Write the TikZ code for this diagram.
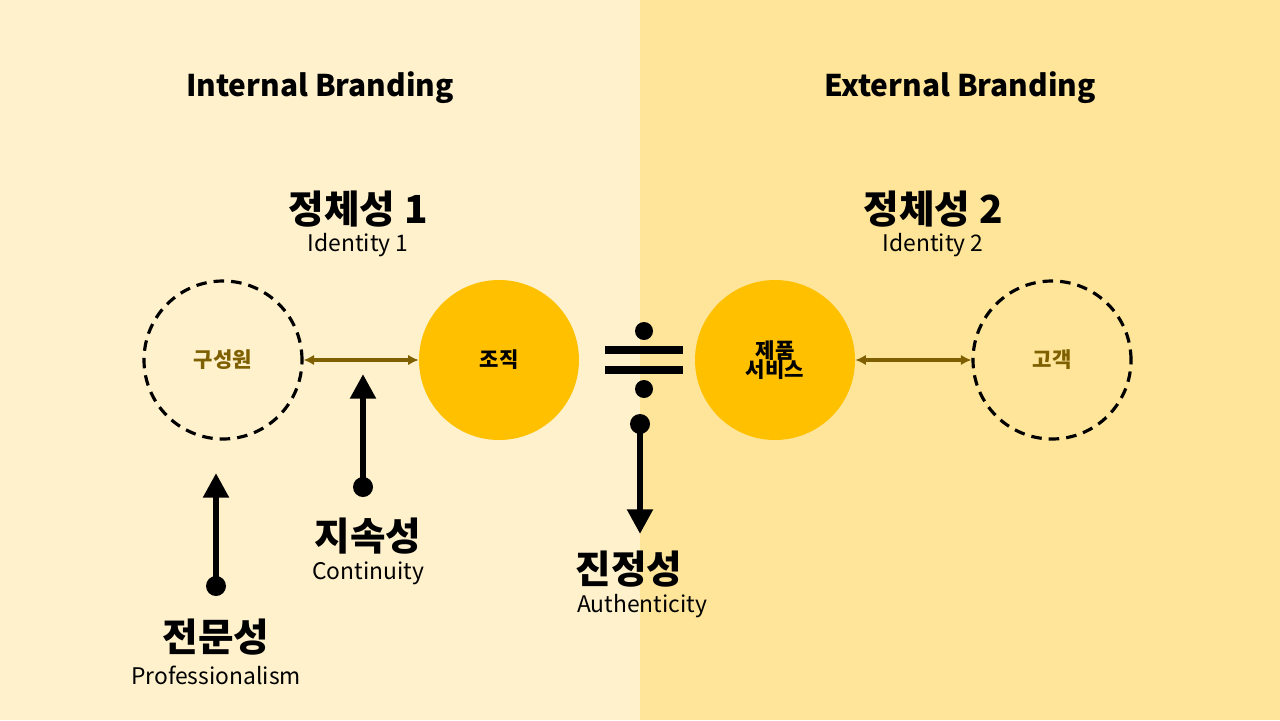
\documentclass[tikz,border=0pt]{standalone}
\usepackage{fontspec}
\setmainfont{Noto Sans CJK KR}
\usetikzlibrary{arrows.meta}
\definecolor{lbg}{HTML}{FEF1CC}
\definecolor{rbg}{HTML}{FEE599}
\definecolor{gold}{HTML}{FFC000}
\definecolor{brn}{HTML}{7F6000}
\tikzset{
 dcirc/.style={circle,draw=black,dashed,line width=1.8pt,dash pattern=on 6pt off 4pt,minimum size=158*0.02cm,inner sep=0pt,font=\bfseries\fontsize{12}{14}\selectfont,text=brn},
 gcirc/.style={circle,fill=gold,minimum size=160*0.02cm,inner sep=0pt,font=\bfseries\fontsize{12}{14}\selectfont,align=center},
 dbl/.style={brn,line width=1.8pt,{Latex[length=6pt,width=6pt]}-{Latex[length=6pt,width=6pt]}},
 varr/.style={line width=3.5pt,-{Triangle[length=14pt,width=14pt]}},
 dot/.style={circle,fill=black,minimum size=18*0.02cm,inner sep=0pt},
 big/.style={font=\bfseries\fontsize{22}{24}\selectfont,inner sep=0pt},
 sml/.style={font=\fontsize{13}{15}\selectfont,inner sep=0pt},
 head/.style={font=\bfseries\fontsize{17}{19}\selectfont}
}
\begin{document}
\begin{tikzpicture}[x=0.02cm,y=-0.02cm]
\fill[lbg] (0,0) rectangle (640,720);
\fill[rbg] (640,0) rectangle (1280,720);
\useasboundingbox (0,0) rectangle (1280,720);
\node[head] (ib) at (320,88) {Internal Branding};
\node[head] (eb) at (960,88) {External Branding};
\node[big] (i1k) at (358,209) {정체성 1};
\node[sml] (i1) at (358,245) {Identity 1};
\node[big] (i2k) at (933,209) {정체성 2};
\node[sml] (i2) at (933,245) {Identity 2};
\node[dcirc] (c1) at (223,360) {구성원};
\node[gcirc] (c2) at (499,360) {조직};
\node[gcirc] (c3) at (775,360) {제품\\[-3pt]서비스};
\node[dcirc] (c4) at (1052,360) {고객};
\draw[dbl] (c1) -- (c2);
\draw[dbl] (c3) -- (c4);
\node[dot] (d1) at (644,331) {};
\node[dot] (d2) at (644,389) {};
\coordinate (b1l) at (605,350); \coordinate (b1r) at (683,350);
\coordinate (b2l) at (605,370); \coordinate (b2r) at (683,370);
\draw[line width=4pt] (b1l) -- (b1r);
\draw[line width=4pt] (b2l) -- (b2r);
\node[dot,minimum size=20*0.02cm] (p1) at (363,487) {};
\coordinate (t1) at (363,374);
\draw[varr] (p1.center) -- (t1);
\node[dot,minimum size=20*0.02cm] (p2) at (216,586) {};
\coordinate (t2) at (216,473);
\draw[varr] (p2.center) -- (t2);
\node[dot,minimum size=20*0.02cm] (p3) at (640,424) {};
\coordinate (t3) at (640,534);
\draw[varr] (p3.center) -- (t3);
\node[big] (k1) at (368,536) {지속성};
\node[sml] (e1) at (368,573) {Continuity};
\node[big] (k2) at (629,569) {진정성};
\node[sml] (e2) at (642,606) {Authenticity};
\node[big] (k3) at (216,637) {전문성};
\node[sml] (e3) at (216,675) {Professionalism};
\end{tikzpicture}
\end{document}
